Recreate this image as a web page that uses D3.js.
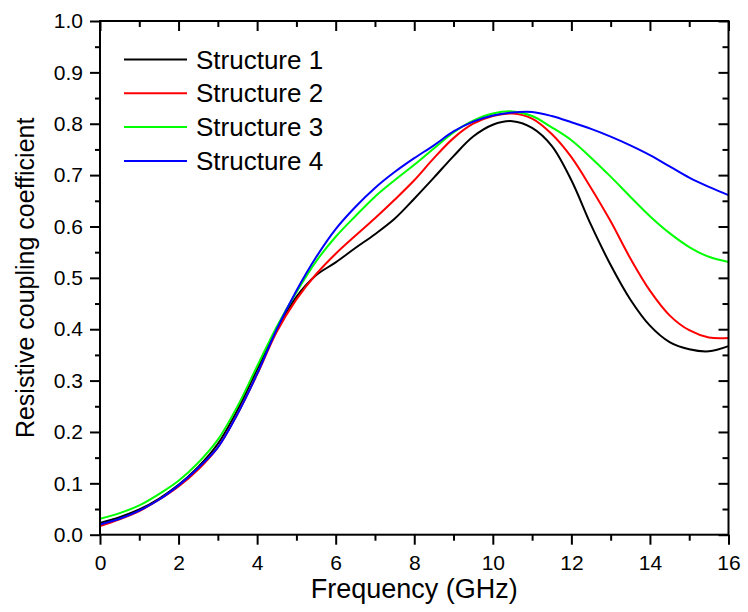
<html>
<head>
<meta charset="utf-8">
<style>
body{margin:0;background:#fff;}
text{font-family:Arial,"Liberation Sans",sans-serif;fill:#000;}
</style>
</head>
<body>
<script src="https://cdn.jsdelivr.net/npm/d3@7"></script>
<script>
// frequency grid (GHz)
var freq = [0,0.5,1,1.5,2,2.5,3,3.5,4,4.5,5,5.5,6,6.5,7,7.5,8,8.5,9,9.5,10,10.5,11,11.5,12,12.5,13,13.5,14,14.5,15,15.5,16];
// resistive coupling coefficient per structure
var s1 = [0.023,0.034,0.049,0.070,0.097,0.132,0.177,0.243,0.322,0.400,0.463,0.505,0.530,0.558,0.585,0.615,0.654,0.695,0.737,0.775,0.798,0.805,0.792,0.757,0.690,0.603,0.525,0.458,0.407,0.375,0.361,0.357,0.367];
var s2 = [0.017,0.030,0.046,0.068,0.094,0.127,0.170,0.235,0.312,0.395,0.458,0.507,0.547,0.582,0.616,0.652,0.690,0.733,0.772,0.800,0.815,0.820,0.810,0.780,0.735,0.675,0.610,0.538,0.475,0.427,0.398,0.384,0.383];
var s3 = [0.031,0.042,0.057,0.079,0.105,0.140,0.185,0.250,0.328,0.405,0.472,0.532,0.580,0.620,0.658,0.690,0.720,0.752,0.783,0.806,0.820,0.824,0.815,0.793,0.768,0.734,0.697,0.658,0.620,0.587,0.560,0.541,0.531];
var s4 = [0.020,0.031,0.047,0.068,0.096,0.130,0.170,0.235,0.313,0.400,0.475,0.540,0.595,0.638,0.675,0.706,0.733,0.758,0.785,0.804,0.816,0.822,0.823,0.815,0.803,0.790,0.775,0.758,0.739,0.717,0.695,0.677,0.661];

var names = ["Structure 1","Structure 2","Structure 3","Structure 4"];
var colors = ["#000000","#ff0000","#00ff00","#0000ff"];
var xTicks = [0,2,4,6,8,10,12,14,16];
var xMinor = [1,3,5,7,9,11,13,15];
var yTicks = [0,0.1,0.2,0.3,0.4,0.5,0.6,0.7,0.8,0.9,1.0];
var yMinor = [0.05,0.15,0.25,0.35,0.45,0.55,0.65,0.75,0.85,0.95];

var width = 748, height = 612;
var margin = {left:100, top:21, right:19.5, bottom:77.3};
var w = width - margin.left - margin.right;
var h = height - margin.top - margin.bottom;

var svg = d3.select("body").append("svg")
    .attr("width", width)
    .attr("height", height);

var g = svg.append("g")
    .attr("transform", "translate(" + margin.left + "," + margin.top + ")");

var x = d3.scaleLinear().domain([0,16]).range([0,w]);
var y = d3.scaleLinear().domain([0,1]).range([h,0]);

// curves
var series = [s1,s2,s3,s4];
var line = d3.line()
    .x(function(d,i){ return x(freq[i]); })
    .y(function(d){ return y(d); })
    .curve(d3.curveCatmullRom.alpha(0.5));

g.selectAll("path.curve")
    .data(series)
    .join("path")
    .attr("class","curve")
    .attr("fill","none")
    .attr("stroke", function(d,i){ return colors[i]; })
    .attr("stroke-width", 2)
    .attr("d", line);

// axes: left/bottom ticks outward, top/right ticks inward
function styleAxis(sel){
    sel.select(".domain").remove();
    sel.selectAll(".tick line").attr("stroke","#000").attr("stroke-width",2);
}

var gx = g.append("g").attr("transform","translate(0," + h + ")")
    .call(d3.axisBottom(x).tickValues(xTicks).tickSize(10).tickPadding(10).tickFormat(d3.format("d")));
gx.call(styleAxis);
gx.selectAll("text").style("font-size","21px");
g.append("g").attr("transform","translate(0," + h + ")")
    .call(d3.axisBottom(x).tickValues(xMinor).tickSize(6).tickFormat(""))
    .call(styleAxis);

var gy = g.append("g")
    .call(d3.axisLeft(y).tickValues(yTicks).tickSize(10).tickPadding(7).tickFormat(d3.format(".1f")));
gy.call(styleAxis);
gy.selectAll("text").style("font-size","21px");
g.append("g")
    .call(d3.axisLeft(y).tickValues(yMinor).tickSize(5).tickFormat(""))
    .call(styleAxis);

g.append("g")
    .call(d3.axisTop(x).tickValues(xTicks).tickSize(-10).tickFormat(""))
    .call(styleAxis);
g.append("g")
    .call(d3.axisTop(x).tickValues(xMinor).tickSize(-6).tickFormat(""))
    .call(styleAxis);
g.append("g").attr("transform","translate(" + w + ",0)")
    .call(d3.axisRight(y).tickValues(yTicks).tickSize(-10).tickFormat(""))
    .call(styleAxis);
g.append("g").attr("transform","translate(" + w + ",0)")
    .call(d3.axisRight(y).tickValues(yMinor).tickSize(-6).tickFormat(""))
    .call(styleAxis);

// frame
g.append("rect")
    .attr("x",0).attr("y",0)
    .attr("width",w).attr("height",h)
    .attr("fill","none")
    .attr("stroke","#000")
    .attr("stroke-width",2);

// axis titles
svg.append("text")
    .attr("x", margin.left + w/2)
    .attr("y", 598)
    .attr("text-anchor","middle")
    .style("font-size","27px")
    .text("Frequency (GHz)");

svg.append("text")
    .attr("transform","translate(34," + (margin.top + h/2) + ") rotate(-90)")
    .attr("text-anchor","middle")
    .style("font-size","25px")
    .text("Resistive coupling coefficient");

// legend
var lg = g.selectAll("g.legend")
    .data(names)
    .join("g")
    .attr("class","legend")
    .attr("transform", function(d,i){ return "translate(24," + (38.5 + i*33.8) + ")"; });
lg.append("line")
    .attr("x1",0).attr("x2",63)
    .attr("y1",0).attr("y2",0)
    .attr("stroke", function(d,i){ return colors[i]; })
    .attr("stroke-width",2);
lg.append("text")
    .attr("x",72)
    .attr("y",0)
    .attr("dy","0.35em")
    .style("font-size","26px")
    .text(function(d){ return d; });
</script>
</body>
</html>
